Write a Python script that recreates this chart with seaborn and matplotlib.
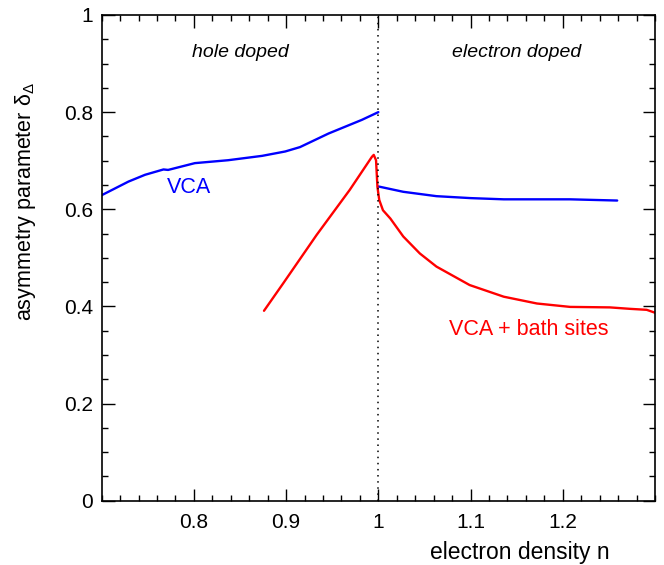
import numpy as np
import pandas as pd
import matplotlib
matplotlib.use("Agg")
import matplotlib.pyplot as plt
from matplotlib.ticker import MultipleLocator, FixedLocator
import seaborn as sns

# ---- data ----
vca_hole_n = [0.700, 0.729, 0.747, 0.767, 0.772, 0.801, 0.837, 0.874, 0.899, 0.915, 0.946, 0.982, 1.000]
vca_hole_d = [0.629, 0.657, 0.671, 0.682, 0.681, 0.695, 0.701, 0.710, 0.719, 0.728, 0.756, 0.784, 0.800]

vca_elec_n = [1.000, 1.027, 1.063, 1.100, 1.136, 1.208, 1.259]
vca_elec_d = [0.647, 0.636, 0.627, 0.623, 0.6205, 0.6205, 0.618]

bath_n = [0.876, 0.897, 0.933, 0.969, 0.993, 0.995, 0.9975, 0.999, 1.001, 1.005, 1.013,
          1.027, 1.045, 1.063, 1.099, 1.136, 1.172, 1.208, 1.251, 1.273, 1.291, 1.300]
bath_d = [0.391, 0.448, 0.547, 0.640, 0.708, 0.712, 0.701, 0.646, 0.619, 0.598, 0.581,
          0.544, 0.509, 0.482, 0.444, 0.420, 0.406, 0.399, 0.398, 0.395, 0.393, 0.387]

x_ticks = [0.8, 0.9, 1.0, 1.1, 1.2]
x_ticklabels = ["0.8", "0.9", "1", "1.1", "1.2"]
y_ticks = [0.0, 0.2, 0.4, 0.6, 0.8, 1.0]
y_ticklabels = ["0", "0.2", "0.4", "0.6", "0.8", "1"]

sns.set_style("ticks")
plt.rcParams["font.family"] = ["Liberation Sans", "DejaVu Sans"]
plt.rcParams["mathtext.fontset"] = "custom"
plt.rcParams["mathtext.rm"] = "Liberation Sans"
plt.rcParams["mathtext.it"] = "Liberation Sans:italic"
for k in ["text.color", "axes.labelcolor", "xtick.color", "ytick.color", "axes.edgecolor"]:
    plt.rcParams[k] = "black"

W, H = 664, 565
fig = plt.figure(figsize=(W / 100, H / 100), dpi=100)
ax = fig.add_axes([101.7 / W, 1 - 500.7 / H, (655 - 101.7) / W, (500.7 - 15) / H])

blue = "#0000ff"
red = "#ff0000"
lw = 1.7

df_vh = pd.DataFrame({"n": vca_hole_n, "d": vca_hole_d})
df_ve = pd.DataFrame({"n": vca_elec_n, "d": vca_elec_d})
df_b = pd.DataFrame({"n": bath_n, "d": bath_d})
sns.lineplot(data=df_vh, x="n", y="d", color=blue, lw=lw, sort=False, estimator=None, ax=ax)
sns.lineplot(data=df_ve, x="n", y="d", color=blue, lw=lw, sort=False, estimator=None, ax=ax)
sns.lineplot(data=df_b, x="n", y="d", color=red, lw=lw, sort=False, estimator=None, ax=ax)

ax.axvline(1.0, color="black", ls=(0, (1, 3)), lw=1.1)

ax.set_xlim(0.70, 1.30)
ax.set_ylim(0, 1)
ax.xaxis.set_major_locator(FixedLocator(x_ticks))
ax.set_xticklabels(x_ticklabels)
ax.xaxis.set_minor_locator(MultipleLocator(0.02))
ax.yaxis.set_major_locator(FixedLocator(y_ticks))
ax.set_yticklabels(y_ticklabels)
ax.yaxis.set_minor_locator(MultipleLocator(0.05))

ax.tick_params(which="both", direction="in", top=True, right=True, color="black",
               labelcolor="black", width=1.0, labelsize=15)
ax.tick_params(which="major", length=9)
ax.tick_params(which="minor", length=4.5)
ax.tick_params(axis="x", pad=9)
ax.tick_params(axis="y", pad=6)
for s in ax.spines.values():
    s.set_linewidth(1.2)
    s.set_color("black")

ax.set_xlabel("")
ax.set_ylabel("")

ax.text(0.85, 0.922, "hole doped", style="italic", fontsize=14, ha="center", va="center", color="black")
ax.text(1.15, 0.922, "electron doped", style="italic", fontsize=14, ha="center", va="center", color="black")
ax.text(0.7705, 0.644, "VCA", color=blue, fontsize=15.5, ha="left", va="center")
ax.text(1.077, 0.3535, "VCA + bath sites", color=red, fontsize=15.5, ha="left", va="center")

fig.text(610 / W, 1 - 552 / H, "electron density n", fontsize=16.5, ha="right", va="center", color="black")
fig.text(25 / W, 1 - 82 / H, r"asymmetry parameter δ$_{\Delta}$", fontsize=15.5,
         rotation=90, ha="center", va="top", color="black")

fig.savefig("out.png", dpi=100)
